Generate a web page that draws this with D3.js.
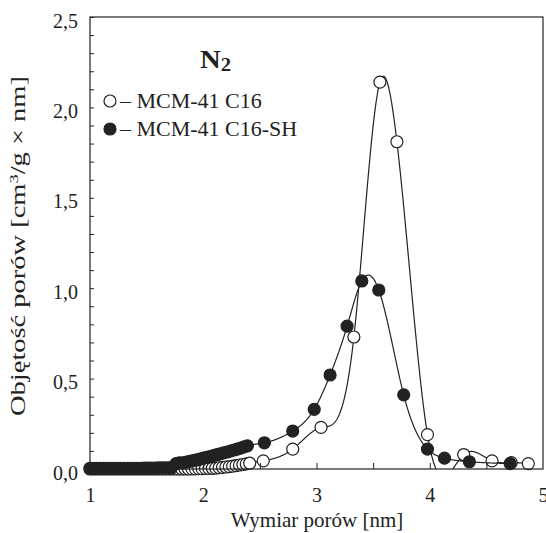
<!DOCTYPE html>
<html>
<head>
<meta charset="utf-8">
<script src="https://cdn.jsdelivr.net/npm/d3@7"></script>
<style>
  body { margin: 0; background: #fff; }
  text { font-family: "Liberation Serif", "Times New Roman", serif; fill: #222; }
</style>
</head>
<body>
<div id="chart"></div>
<script>
// MCM-41 C16 (open circles)
var openX = [1.00,1.03,1.06,1.09,1.12,1.15,1.18,1.21,1.24,1.27,1.30,1.33,1.36,1.39,1.42,1.45,1.48,1.51,1.54,1.57,1.60,1.63,1.66,1.69,1.72,1.75,1.78,1.81,1.84,1.87,1.90,1.93,1.96,1.99,2.02,2.05,2.08,2.11,2.14,2.17,2.20,2.23,2.26,2.29,2.32,2.35,2.38,2.41,
             2.53,2.79,3.04,3.33,3.56,3.71,3.98,4.30,4.55,4.72,4.87];
var openY = [0.000,0.000,0.000,0.000,0.000,0.000,0.000,0.000,0.000,0.000,0.000,0.000,0.000,0.000,0.000,0.000,0.000,0.000,0.000,0.000,0.000,0.000,0.000,0.000,0.000,0.000,0.000,0.000,0.000,0.000,0.001,0.001,0.002,0.002,0.003,0.003,0.004,0.005,0.007,0.009,0.011,0.013,0.016,0.019,0.022,0.025,0.028,0.032,
             0.045,0.11,0.23,0.73,2.14,1.81,0.19,0.08,0.045,0.035,0.03];

// MCM-41 C16-SH (filled circles)
var fillX = [1.00,1.03,1.06,1.09,1.12,1.15,1.18,1.21,1.24,1.27,1.30,1.33,1.36,1.39,1.42,1.45,1.48,1.51,1.54,1.57,1.60,1.63,1.66,1.69,1.72,1.76,1.79,1.82,1.85,1.88,1.91,1.94,1.97,2.00,2.03,2.06,2.09,2.12,2.15,2.18,2.21,2.24,2.27,2.30,2.33,2.36,2.39,
             2.54,2.79,2.98,3.12,3.27,3.40,3.55,3.77,3.98,4.13,4.35,4.71];
var fillY = [0.004,0.004,0.004,0.004,0.004,0.004,0.004,0.004,0.004,0.004,0.004,0.004,0.004,0.004,0.004,0.004,0.005,0.005,0.005,0.005,0.006,0.006,0.006,0.007,0.008,0.030,0.034,0.034,0.038,0.042,0.046,0.050,0.055,0.060,0.064,0.069,0.074,0.079,0.084,0.089,0.094,0.099,0.105,0.110,0.116,0.122,0.128,
             0.145,0.21,0.33,0.52,0.79,1.04,0.99,0.41,0.11,0.06,0.04,0.03];

var xTicks = [1, 2, 3, 4, 5];
var yTicks = [0, 0.5, 1.0, 1.5, 2.0, 2.5];
var seriesNames = ["\u2013 MCM-41 C16", "\u2013 MCM-41 C16-SH"];

var W = 546, H = 533;
var svg = d3.select("#chart").append("svg").attr("width", W).attr("height", H);

var x = d3.scaleLinear().domain([1, 5]).range([90, 543]);
var y = d3.scaleLinear().domain([0, 2.5]).range([469, 17]);

svg.append("defs").append("clipPath").attr("id", "plot")
  .append("rect").attr("x", 90).attr("y", 17).attr("width", 453).attr("height", 452);

// natural cubic spline y(x), used only to draw the smooth line
function spline(xs, ys) {
  var n = xs.length, h = [], al = [], l = [1], mu = [0], z = [0], c = new Array(n).fill(0), b = [], d = [];
  for (var i = 0; i < n - 1; i++) h[i] = xs[i + 1] - xs[i];
  for (i = 1; i < n - 1; i++) al[i] = 3 / h[i] * (ys[i + 1] - ys[i]) - 3 / h[i - 1] * (ys[i] - ys[i - 1]);
  for (i = 1; i < n - 1; i++) {
    l[i] = 2 * (xs[i + 1] - xs[i - 1]) - h[i - 1] * mu[i - 1];
    mu[i] = h[i] / l[i];
    z[i] = (al[i] - h[i - 1] * z[i - 1]) / l[i];
  }
  for (i = n - 2; i >= 0; i--) {
    c[i] = z[i] - mu[i] * c[i + 1];
    b[i] = (ys[i + 1] - ys[i]) / h[i] - h[i] * (c[i + 1] + 2 * c[i]) / 3;
    d[i] = (c[i + 1] - c[i]) / (3 * h[i]);
  }
  return function(t) {
    var k = d3.bisectRight(xs, t) - 1;
    k = Math.max(0, Math.min(n - 2, k));
    var dx = t - xs[k];
    return ys[k] + b[k] * dx + c[k] * dx * dx + d[k] * dx * dx * dx;
  };
}

function drawSeries(xs, ys, filled) {
  var f = spline(xs, ys);
  var pts = d3.range(xs[0], xs[xs.length - 1], 0.004).concat([xs[xs.length - 1]]).map(function(t) { return [t, f(t)]; });
  var line = d3.line().x(function(p) { return x(p[0]); }).y(function(p) { return y(p[1]); });
  svg.append("path").attr("d", line(pts)).attr("clip-path", "url(#plot)")
    .attr("fill", "none").attr("stroke", "#222").attr("stroke-width", 1.2);
  svg.append("g").selectAll("circle").data(d3.range(xs.length)).enter().append("circle")
    .attr("cx", function(i) { return x(xs[i]); })
    .attr("cy", function(i) { return y(ys[i]); })
    .attr("r", 6)
    .attr("fill", filled ? "#222" : "#fff")
    .attr("stroke", "#222").attr("stroke-width", 1.2);
}

drawSeries(openX, openY, false);
drawSeries(fillX, fillY, true);

// frame
svg.append("rect").attr("x", 90).attr("y", 17).attr("width", 453).attr("height", 452)
  .attr("fill", "none").attr("stroke", "#222").attr("stroke-width", 1.2);

// axes
var xAxis = d3.axisBottom(x).tickValues(xTicks).tickSize(0).tickPadding(19).tickFormat(d3.format("d"));
var gx = svg.append("g").attr("transform", "translate(0,469)").call(xAxis);
gx.select(".domain").remove();
gx.selectAll("text").style("font-size", "20px").attr("fill", "#222");
svg.append("g").attr("transform", "translate(0,469)")
  .call(d3.axisBottom(x).tickValues([1.5, 2, 2.5, 3, 3.5, 4, 4.5]).tickSize(-6).tickFormat(""))
  .call(function(g) { g.select(".domain").remove(); g.selectAll("line").attr("stroke", "#222"); });

var yAxis = d3.axisLeft(y).tickValues(yTicks).tickSize(0).tickPadding(12).tickFormat(function(d) { return d3.format(".1f")(d).replace(".", ","); });
var gy = svg.append("g").attr("transform", "translate(90,0)").call(yAxis);
gy.select(".domain").remove();
gy.selectAll("text").style("font-size", "20px").attr("fill", "#222").attr("dy", "0.5em");
svg.append("g").attr("transform", "translate(90,0)")
  .call(d3.axisLeft(y).ticks(25).tickSize(-4).tickFormat(""))
  .call(function(g) { g.select(".domain").remove(); g.selectAll("line").attr("stroke", "#222"); });

// axis titles
svg.append("text").attr("x", 317).attr("y", 527).attr("text-anchor", "middle")
  .style("font-size", "21px").text("Wymiar porów [nm]");
var yt = svg.append("text").attr("text-anchor", "middle").style("font-size", "20px");
yt.append("tspan").text("Objętość porów [cm");
yt.append("tspan").attr("dy", -7).style("font-size", "13px").text("3");
yt.append("tspan").attr("dy", 7).text("/g \u00d7 nm]");
var ytw = yt.node().getBBox().width;
yt.attr("transform", "translate(25,246) rotate(-90) scale(" + (340 / ytw) + ",1)");

// N2 label
var n2 = svg.append("text").attr("transform", "translate(200,68) scale(1.15,1)").style("font-size", "25px").style("font-weight", "bold");
n2.append("tspan").text("N");
n2.append("tspan").attr("dy", 3).style("font-size", "18px").text("2");

// legend
var legend = svg.append("g").selectAll("g").data(seriesNames).enter().append("g")
  .attr("transform", function(d, i) { return "translate(110," + (101 + i * 28) + ")"; });
legend.append("circle").attr("r", 6)
  .attr("fill", function(d, i) { return i ? "#222" : "#fff"; })
  .attr("stroke", "#222").attr("stroke-width", 1.2);
legend.append("text").attr("x", 10).attr("y", 7).style("font-size", "22px").text(function(d) { return d; });
</script>
</body>
</html>
